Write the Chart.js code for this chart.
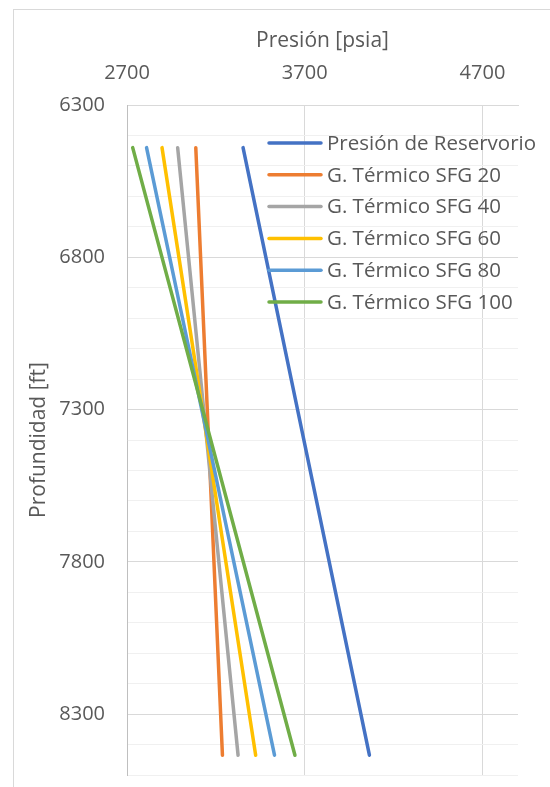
<!DOCTYPE html>
<html>
<head>
  <meta charset="utf-8">
  <title>Presión vs Profundidad</title>
  <script src="https://cdn.jsdelivr.net/npm/chart.js"></script>
  <style>
    body {
      margin: 0;
      background-color: #fff;
    }
    .chart-box {
      width: 550px;
      height: 787px;
    }
  </style>
</head>
<body>
  <div class="chart-box">
    <canvas id="chartPresion" width="550" height="787"></canvas>
  </div>

  <script>
    // Depths (ft) where each straight line starts and ends
    const depths = [6440, 8435];

    // Pressure (psia) at those depths, per series
    const reservoir = [3353, 4064];
    const sfg20 = [3087, 3237];
    const sfg40 = [2985, 3325];
    const sfg60 = [2897, 3424];
    const sfg80 = [2810, 3530];
    const sfg100 = [2732, 3645];

    const seriesLabels = [
      'Presión de Reservorio',
      'G. Térmico SFG 20',
      'G. Térmico SFG 40',
      'G. Térmico SFG 60',
      'G. Térmico SFG 80',
      'G. Térmico SFG 100'
    ];
    const seriesValues = [reservoir, sfg20, sfg40, sfg60, sfg80, sfg100];
    const seriesColors = ['#4472C4', '#ED7D31', '#A5A5A5', '#FFC000', '#5B9BD5', '#70AD47'];

    // Axis ticks
    const xTicks = [2700, 3700, 4700];
    const yLabelTicks = [6300, 6800, 7300, 7800, 8300];

    const textColor = '#595959';
    const fontFamily = "'Open Sans', 'Noto Sans', sans-serif";

    const datasets = seriesValues.map((vals, i) => ({
      label: seriesLabels[i],
      data: vals.map((p, k) => ({ x: p, y: depths[k] })),
      borderColor: seriesColors[i],
      backgroundColor: seriesColors[i],
      borderWidth: 3.5,
      borderCapStyle: 'round',
      showLine: true,
      pointRadius: 0,
      // Excel draws later series on top
      order: seriesValues.length - i
    }));

    // Outer frame and in-plot legend, drawn like the Excel original
    const excelExtras = {
      id: 'excelExtras',
      beforeDraw(chart) {
        const ctx = chart.ctx;
        ctx.save();
        ctx.strokeStyle = '#d9d9d9';
        ctx.lineWidth = 1;
        ctx.strokeRect(13.5, 9.5, 600, 800);
        ctx.restore();
      },
      afterDraw(chart) {
        const ctx = chart.ctx;
        ctx.save();
        ctx.font = '20.5px ' + fontFamily;
        ctx.textBaseline = 'middle';
        ctx.lineCap = 'round';
        seriesLabels.forEach((lab, i) => {
          const y = 143 + i * 31.8;
          ctx.strokeStyle = seriesColors[i];
          ctx.lineWidth = 3.5;
          ctx.beginPath();
          ctx.moveTo(269, y);
          ctx.lineTo(321, y);
          ctx.stroke();
          ctx.fillStyle = textColor;
          ctx.fillText(lab, 327, y + 1);
        });
        ctx.restore();
      }
    };

    const ctx = document.getElementById('chartPresion').getContext('2d');
    const chart = new Chart(ctx, {
      type: 'scatter',
      data: { datasets: datasets },
      plugins: [excelExtras],
      options: {
        responsive: false,
        animation: false,
        layout: { padding: { left: 0, top: 0, right: 32, bottom: 12 } },
        plugins: {
          legend: { display: false },
          tooltip: { enabled: false }
        },
        scales: {
          x: {
            type: 'linear',
            position: 'top',
            min: 2700,
            max: 4900,
            afterBuildTicks: axis => { axis.ticks = xTicks.map(v => ({ value: v })); },
            afterFit: axis => {
              axis.height = 105;
              axis.paddingLeft = 0;
              axis.paddingRight = 0;
            },
            ticks: {
              color: textColor,
              font: { family: fontFamily, size: 20 },
              padding: 20,
              maxRotation: 0,
              callback: v => String(v)
            },
            grid: { color: '#d9d9d9', drawTicks: false },
            border: { color: '#d9d9d9' },
            title: {
              display: true,
              text: 'Presión [psia]',
              color: textColor,
              font: { family: fontFamily, size: 21 },
              padding: { top: 28, bottom: 0 }
            }
          },
          y: {
            type: 'linear',
            reverse: true,
            min: 6300,
            max: 8500,
            afterBuildTicks: axis => {
              const t = [];
              for (let v = 6300; v <= 8500; v += 100) t.push({ value: v });
              axis.ticks = t;
            },
            afterFit: axis => {
              axis.width = 127;
              axis.paddingTop = 0;
              axis.paddingBottom = 0;
            },
            ticks: {
              autoSkip: false,
              color: textColor,
              font: { family: fontFamily, size: 20 },
              padding: 22,
              callback: v => yLabelTicks.includes(v) ? String(v) : ''
            },
            grid: {
              drawTicks: false,
              color: c => ((c.tick && (c.tick.value - 6300) % 500 === 0) ? '#d9d9d9' : '#f0f0f0')
            },
            border: { color: '#bfbfbf' },
            title: {
              display: true,
              text: 'Profundidad [ft]',
              color: textColor,
              font: { family: fontFamily, size: 21 },
              padding: { top: 26, bottom: 0 }
            }
          }
        }
      }
    });
  </script>
</body>
</html>
